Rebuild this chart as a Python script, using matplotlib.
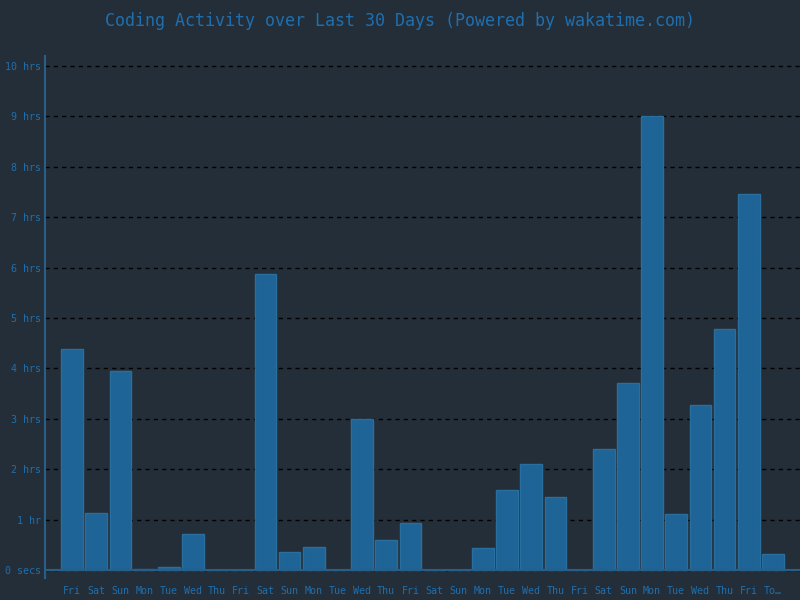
import matplotlib
matplotlib.use("Agg")
import matplotlib.pyplot as plt
import numpy as np

days = ["Fri", "Sat", "Sun", "Mon", "Tue", "Wed", "Thu", "Fri", "Sat", "Sun",
        "Mon", "Tue", "Wed", "Thu", "Fri", "Sat", "Sun", "Mon", "Tue", "Wed",
        "Thu", "Fri", "Sat", "Sun", "Mon", "Tue", "Wed", "Thu", "Fri", "To…"]
hours = [4.38, 1.13, 3.95, 0.02, 0.05, 0.71, 0.0, 0.0, 5.87, 0.36,
         0.46, 0.0, 3.0, 0.6, 0.93, 0.0, 0.0, 0.44, 1.59, 2.1,
         1.45, 0.0, 2.4, 3.71, 9.01, 1.11, 3.27, 4.78, 7.46, 0.32]
ytick_vals = list(range(0, 11))
ytick_labels = ["0 secs", "1 hr"] + ["%d hrs" % h for h in range(2, 11)]

bg = "#242e38"
fg = "#1f6fae"
plt.rcParams["font.family"] = ["DejaVu Sans Mono"]

fig = plt.figure(figsize=(8, 6), dpi=100, facecolor=bg)
ax = fig.add_axes([45 / 800, 22 / 600, 755 / 800, 522 / 600])
ax.set_facecolor(bg)

x = np.arange(len(hours))
ax.bar(x, hours, width=0.9, color="#1f6496", edgecolor="#2a6e9e", linewidth=1, zorder=3)
ax.axhline(0, color="#285f88", linewidth=1.5, zorder=4)

ax.set_xlim(-1.12, 30.12)
ax.set_ylim(-0.16, 10.2)
ax.set_yticks(ytick_vals)
ax.set_yticklabels(ytick_labels)
ax.set_xticks(x)
ax.set_xticklabels(days)
ax.tick_params(axis="both", length=0, colors=fg, labelsize=7.2)
ax.tick_params(axis="y", pad=3)
ax.tick_params(axis="x", pad=6)
ax.yaxis.grid(True, color="black", linestyle=(0, (3, 3)), linewidth=1, zorder=1)

for s in ["top", "right", "bottom"]:
    ax.spines[s].set_visible(False)
ax.spines["left"].set_color("#285f88")
ax.spines["left"].set_linewidth(1.5)

fig.text(0.5, 1 - 21 / 600, "Coding Activity over Last 30 Days (Powered by wakatime.com)",
         ha="center", va="center", color=fg, fontsize=12)

fig.savefig("out.png", dpi=100, facecolor=bg)
